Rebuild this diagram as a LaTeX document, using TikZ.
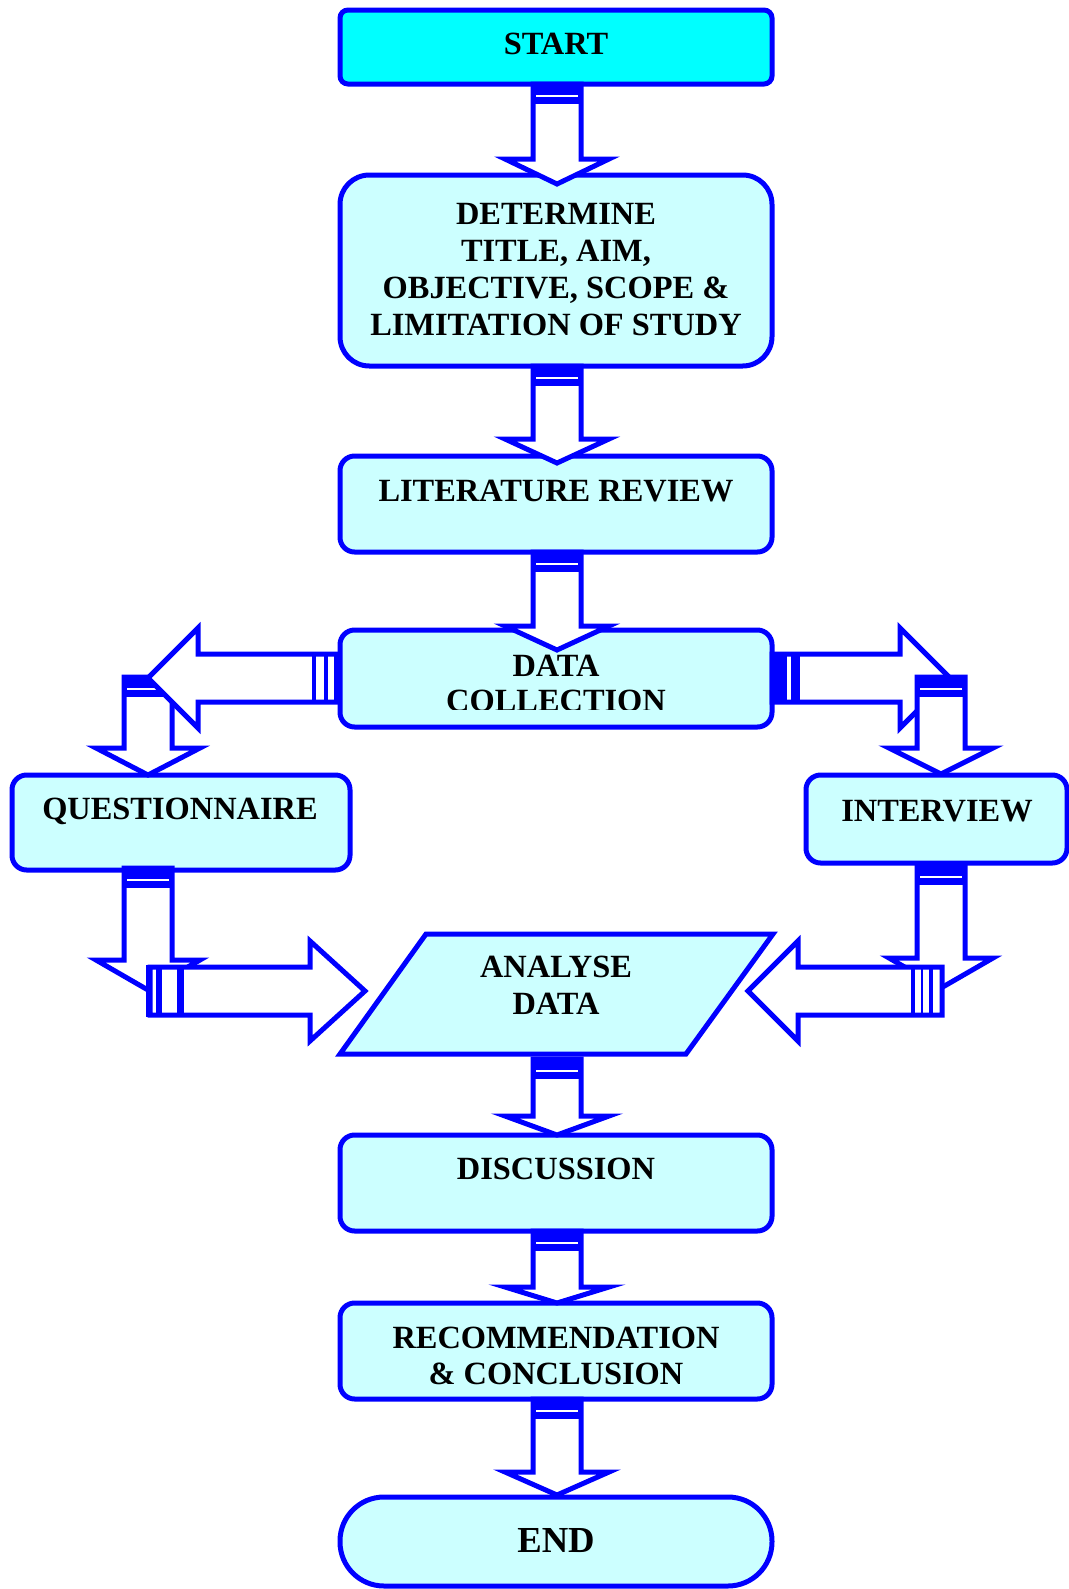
\documentclass[tikz,border=0pt]{standalone}
\usepackage{fontspec}
\setmainfont{Liberation Serif}
\definecolor{bl}{RGB}{0,0,255}
\definecolor{lc}{RGB}{204,255,255}
\definecolor{cy}{RGB}{0,255,255}
\tikzset{
  box/.style={draw=bl, line width=3.75pt, fill=lc, rounded corners=11pt, inner sep=0pt, minimum width=324pt, minimum height=72pt},
  lbl/.style={font=\bfseries\fontsize{24.3}{27.6}\selectfont, align=center, inner sep=0pt, text=black},
  arr/.style={draw=bl, line width=3.75pt, fill=white, line join=miter},
  capline/.style={draw=bl, line width=3pt},
}
\newcommand\mydarr[4]{% x, ybase, yhead, ytip
  \draw[arr] ({#1-24},#2) -- ({#1-24},#3) -- ({#1-52},#3) -- (#1,#4) -- ({#1+52},#3) -- ({#1+24},#3) -- ({#1+24},#2) -- cycle;
  \fill[bl] ({#1-26},#2) rectangle ({#1+26},{#2+20});
  \draw[white, line width=0.8pt] ({#1-21},{#2+12}) -- ({#1+21},{#2+12});
}
\newcommand\myharr[4]{% y, xbase, xhead, xtip
  \draw[arr] (#2,{#1-24}) -- (#3,{#1-24}) -- (#3,{#1-50}) -- (#4,#1) -- (#3,{#1+50}) -- (#3,{#1+24}) -- (#2,{#1+24}) -- cycle;
}
\begin{document}
\begin{tikzpicture}[x=0.75pt, y=-0.75pt]
\useasboundingbox[fill=white] (0,0) rectangle (1069,1589);

% boxes
\node[box, fill=cy, rounded corners=6pt, minimum height=55.5pt] (start) at (556,47) {};
\node[box, rounded corners=22pt, minimum height=143.25pt] (det) at (556,270.5) {};
\node[box] (lit) at (556,504) {};
\node[box, minimum height=72.75pt] (dc) at (556,678.5) {};
\node[box, minimum width=253.5pt, minimum height=71.25pt] (quest) at (181,822.5) {};
\node[box, minimum width=195.75pt, minimum height=66pt] (inter) at (936.5,819) {};
\draw[draw=bl, line width=3.75pt, fill=lc, line join=miter] (426,934) coordinate (an1) -- (773,934) coordinate (an2) -- (686,1054) coordinate (an3) -- (340,1054) coordinate (an4) -- cycle;
\node[box] (disc) at (556,1183) {};
\node[box] (rec) at (556,1351) {};
\node[box, rounded corners=33pt, minimum height=66.75pt] (endn) at (556,1541.5) {};

% labels
\node[lbl] (tstart) at (556,43.5) {START};
\node[lbl] (tdet) at (556,269.5) {DETERMINE\\TITLE, AIM,\\OBJECTIVE, SCOPE \&\\LIMITATION OF STUDY};
\node[lbl] (tlit) at (556,491) {LITERATURE REVIEW};
\begin{scope}
  \clip (345,640) rectangle (767,709);
  \node[lbl, font=\bfseries\fontsize{24.3}{26.3}\selectfont] (tdc) at (556,683.5) {DATA\\COLLECTION};
\end{scope}
\node[lbl] (tq) at (180,811) {QUESTIONNAIRE};
\node[lbl] (ti) at (937,811) {INTERVIEW};
\node[lbl] (tan) at (556,985.5) {ANALYSE\\DATA};
\node[lbl] (tdisc) at (556,1169) {DISCUSSION};
\node[lbl] (trec) at (556,1356) {RECOMMENDATION\\\& CONCLUSION};
\node[lbl, font=\bfseries\fontsize{27.5}{30}\selectfont] (tend) at (556,1541) {END};

% main vertical arrows
\mydarr{557}{84}{159}{184}
\mydarr{557}{366}{439}{463}
\mydarr{557}{552}{626}{650}
\mydarr{557}{1059}{1116}{1135}
\mydarr{557}{1231}{1287}{1303}
\mydarr{557}{1399}{1472}{1495}

% left branch from data collection
\mydarr{148}{677}{748}{775}
\myharr{678}{338}{198}{148}
\draw[capline] (314,654) rectangle (336,702);
\draw[capline] (326,654) -- (326,702);

% right branch from data collection
\myharr{678}{772}{900}{950}
\fill[bl] (772,654) rectangle (787,702);
\fill[bl] (791,654) rectangle (800,702);
\mydarr{941}{677}{748}{774}

% questionnaire to analyse
\mydarr{148}{868}{960}{990}
\myharr{991}{150}{310}{365}
\draw[capline, line width=2.5pt] (148,967) rectangle (158,1015);
\draw[capline, line width=2.5pt] (160,967) rectangle (179,1015);
\draw[capline, line width=2.5pt] (182,967) -- (182,1015);

% interview to analyse
\mydarr{941}{865}{958}{988}
\myharr{991}{942}{798}{748}
\draw[capline, line width=2.5pt] (913,967) rectangle (931,1015);
\draw[capline, line width=2.5pt] (931,967) rectangle (942,1015);
\draw[capline, line width=1.5pt] (922,967) -- (922,1015);
\end{tikzpicture}
\end{document}
